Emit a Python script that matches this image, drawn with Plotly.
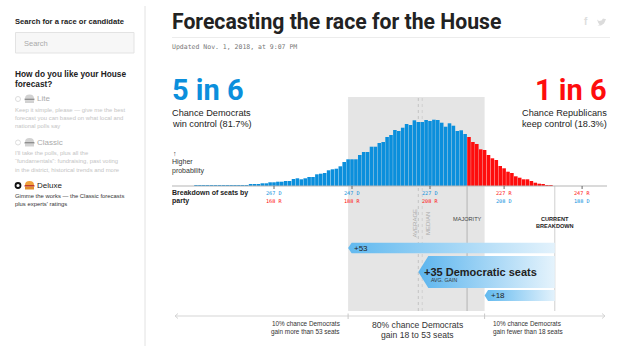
import plotly.graph_objects as go

W, H = 632, 364

# ---------- data ----------
dem_seats = list(range(287, 195, -1))
seat_chance = [
    0.3, 0.3, 0.3, 0.4, 0.4, 0.4, 0.5, 0.5, 0.6, 0.6, 0.7,  # 287-277
    0.8, 0.9, 1.0, 1.2, 1.3, 1.7, 2.7, 2.7, 3.7, 3.7,       # 276-267
    4.3, 4.3, 5.0, 5.0, 7.0, 7.7, 6.7, 7.7, 9.0, 9.0,       # 266-257
    11.7, 12.3, 13.0, 15.7, 16.7, 17.3, 19.7, 24.0, 26.7, 26.7,  # 256-247
    26.7, 31.0, 34.0, 34.0, 39.3, 39.3, 43.0, 44.0, 49.0, 51.0,  # 246-237
    56.0, 55.0, 58.3, 62.0, 61.0, 65.7, 64.0, 64.0, 66.0, 65.0,  # 236-227
    66.3, 66.0, 63.3, 59.3, 62.7, 60.3, 55.0, 55.7, 52.0,       # 226-218
    49.0, 44.0, 42.0, 36.7, 36.0, 31.0, 27.7, 26.0, 20.0, 17.7,  # 217-208
    14.3, 13.0, 9.7, 8.3, 6.7, 6.7, 5.0, 3.3, 2.3, 1.3,          # 207-198
    0.8, 0.6,                                                    # 197-196
]
MAJORITY = 218
CURRENT = 195
tick_seats = [267, 247, 227, 208, 188]
tick_top = ["267 D", "247 D", "227 D", "227 R", "247 R"]
tick_bot = ["168 R", "188 R", "208 R", "208 D", "188 D"]
tick_party = ["D", "D", "D", "R", "R"]
gain_high, gain_avg, gain_low = 53, 35, 18
gain_median = 34

BLUE = "#0b8fdc"
RED = "#fe0d0d"
HEAD = "Roboto"

# ---------- scales ----------
PX_PER_SEAT = 3.9
x_left = 227 + 430 / PX_PER_SEAT
x_right = 227 - (W - 430) / PX_PER_SEAT
BASE_Y = 186


def sy(py):
    return BASE_Y - py


def fx(px):
    return px / W


def fy(py):
    return 1 - py / H


bar_colors = [BLUE if s >= MAJORITY else RED for s in dem_seats]

fig = go.Figure()
fig.add_bar(x=dem_seats, y=seat_chance, marker=dict(color=bar_colors, line_width=0),
            width=0.92, hoverinfo="skip")

shapes = []
ann = []


def text(px, py, s, size=8, color="#222", anchor="left", font="Liberation Sans", bold=False, angle=0):
    ann.append(dict(xref="paper", yref="paper", x=fx(px), y=fy(py), text=f"<b>{s}</b>" if bold else s,
                    showarrow=False, xanchor=anchor, yanchor="middle", textangle=angle,
                    font=dict(size=size, color=color, family=font), borderpad=0, borderwidth=0))


def pline(x0, y0, x1, y1, color="#ccc", width=1, dash="solid"):
    shapes.append(dict(type="line", xref="paper", yref="paper", x0=fx(x0), x1=fx(x1), y0=fy(y0), y1=fy(y1),
                       line=dict(color=color, width=width, dash=dash), layer="above"))


def vline(s, y0, y1, color, dash="solid"):
    shapes.append(dict(type="line", xref="x", yref="y", x0=s, x1=s, y0=sy(y1), y1=sy(y0),
                       line=dict(color=color, width=1, dash=dash), layer="below"))


def seat_px(s):
    return 430 + (227 - s) * PX_PER_SEAT


# shaded 80% band
shapes.append(dict(type="rect", xref="x", yref="y", x0=CURRENT + gain_high, x1=CURRENT + gain_low,
                   y0=sy(311), y1=sy(97), fillcolor="#e5e5e5", line_width=0, layer="below"))

# sidebar
pline(145, 6, 145, 346, "#e2e2e2", 1)
text(15, 21, "Search for a race or candidate", 7.6, "#222", bold=True)
shapes.append(dict(type="rect", xref="paper", yref="paper", x0=fx(15.5), x1=fx(134), y0=fy(32.5), y1=fy(53),
                   fillcolor="#f7f7f7", line=dict(color="#e3e3e3", width=1)))
text(24, 43, "Search", 7.5, "#aaa")
text(15, 74, "How do you like your House", 8.3, "#222", bold=True)
text(15, 84, "forecast?", 8.3, "#222", bold=True)

GREY_T = "#c4c4c4"
options = [
    ("Lite", 99, GREY_T, ["Keep it simple, please — give me the best",
                          "forecast you can based on what local and",
                          "national polls say"], 109.5),
    ("Classic", 142.5, GREY_T, ["I'll take the polls, plus all the",
                                "“fundamentals”: fundraising, past voting",
                                "in the district, historical trends and more"], 153),
    ("Deluxe", 185.5, "#222", ["Gimme the works — the Classic forecasts",
                               "plus experts' ratings"], 196),
]
for name, y, col, lines, y0 in options:
    on = name == "Deluxe"
    shapes.append(dict(type="circle", xref="paper", yref="paper", x0=fx(15.5), x1=fx(20.5), y0=fy(y - 2.5), y1=fy(y + 2.5),
                       fillcolor="white", line=dict(color="#111" if on else "#ddd", width=1.8 if on else 1)))
    top = "#f0a23c" if on else "#d2d2d2"
    mid = "#c0392b" if on else "#8f8f8f"
    bot = "#e08e2e" if on else "#d2d2d2"
    shapes.append(dict(type="path", xref="paper", yref="paper",
                       path=f"M {fx(25)} {fy(y - 0.5)} Q {fx(25)} {fy(y - 4.5)} {fx(29.5)} {fy(y - 4.5)} "
                            f"Q {fx(34)} {fy(y - 4.5)} {fx(34)} {fy(y - 0.5)} Z",
                       fillcolor=top, line_width=0))
    shapes.append(dict(type="rect", xref="paper", yref="paper", x0=fx(24.6), x1=fx(34.4), y0=fy(y - 0.5), y1=fy(y + 1.2),
                       fillcolor=mid, line_width=0))
    shapes.append(dict(type="rect", xref="paper", yref="paper", x0=fx(25), x1=fx(34), y0=fy(y + 1.2), y1=fy(y + 4),
                       fillcolor=bot, line_width=0))
    text(37, y, name, 8, "#aaa" if not on else "#222")
    for i, l in enumerate(lines):
        text(15, y0 + i * 8.4, l, 5.9, col if not on else "#333")

# header
text(172, 21.5, "Forecasting the race for the House", 21.2, "#222", bold=True, font=HEAD)
pline(172, 37.5, 610, 37.5, "#ececec", 1)
text(172, 47, "Updated Nov. 1, 2018, at 9:07 PM", 6.5, "#777", font="DejaVu Sans Mono")
text(586, 21.5, "f", 10, "#ddd", anchor="center", bold=True)
t = [(597, 19.5), (599, 21), (601.5, 20.5), (603, 18.5), (605, 19), (606, 19), (605.2, 21), (604, 23.5), (601, 25.5),
     (597.5, 25.5), (599.5, 24.5), (598, 22.5), (597.8, 21.5)]
shapes.append(dict(type="path", xref="paper", yref="paper", line_width=0, fillcolor="#dcdcdc",
                   path="M " + " L ".join(f"{fx(a)} {fy(b)}" for a, b in t) + " Z"))

# headline probabilities
text(172, 90, "5 in 6", 29, BLUE, bold=True, font=HEAD)
text(172, 113, "Chance Democrats", 9.2, "#222")
text(172, 124, "win control (81.7%)", 9.2, "#222")
text(607, 90, "1 in 6", 29, RED, anchor="right", bold=True, font=HEAD)
text(607, 113, "Chance Republicans", 9.2, "#222", anchor="right")
text(607, 124, "keep control (18.3%)", 9.2, "#222", anchor="right")
text(173, 153, "↑", 7, "#333")
text(172, 162, "Higher", 7, "#333")
text(172, 171, "probability", 7, "#333")

# baseline and ticks
pline(172, 186, 607, 186, "#b5b5b5", 1.2)
for s, a, b, p in zip(tick_seats, tick_top, tick_bot, tick_party):
    c1, c2 = (BLUE, RED) if p == "D" else (RED, BLUE)
    px = seat_px(s)
    pline(px, 186, px, 189, "#666", 1)
    text(px, 193, a, 5.2, c1, anchor="center", font="DejaVu Sans Mono")
    text(px, 200.5, b, 5.2, c2, anchor="center", font="DejaVu Sans Mono")
text(172, 193, "Breakdown of seats by", 7, "#222", bold=True)
text(172, 201, "party", 7, "#222", bold=True)

# reference lines
vline(CURRENT + gain_avg, 97, 311, "#c4c4c4", "dot")
vline(CURRENT + gain_median, 97, 311, "#d0d0d0", "dot")
vline(MAJORITY - 0.5, 186, 311, "#b3b3b3")
vline(CURRENT, 186, 311, "#cfcfcf")
text(414, 223.5, "AVERAGE", 6, "#aaa", anchor="center", angle=-90)
text(427.5, 223.5, "MEDIAN", 6, "#aaa", anchor="center", angle=-90)
text(468, 219, "MAJORITY", 5.6, "#444", anchor="center")
text(555, 219, "CURRENT", 5.6, "#222", anchor="center", bold=True)
text(555, 225.5, "BREAKDOWN", 5.6, "#222", anchor="center", bold=True)


# gain arrows
def arrow(gain, y0, y1, shoulder, c0, c1):
    tip = CURRENT + gain
    sh = tip - shoulder / PX_PER_SEAT
    mid = (y0 + y1) / 2
    xs = [tip, sh, CURRENT, CURRENT, sh, tip]
    ys = [sy(mid), sy(y0), sy(y0), sy(y1), sy(y1), sy(mid)]
    fig.add_scatter(x=xs, y=ys, mode="lines", fill="toself", line=dict(width=0),
                    fillgradient=dict(type="horizontal", colorscale=[[0, c0], [1, c1]]), hoverinfo="skip")


arrow(gain_high, 242.7, 253.3, 3.5, "#61b9ef", "#e3f2fc")
arrow(gain_avg, 256, 288, 10, "#5cb5ee", "#e5f3fc")
arrow(gain_low, 290, 301, 3.5, "#61b9ef", "#e3f2fc")
text(354, 248, "+%d" % gain_high, 8, "#222")
text(424, 272, "+%d Democratic seats" % gain_avg, 11, "#222", bold=True)
text(431, 280, "AVG. GAIN", 5.2, "#333")
text(491, 295.5, "+%d" % gain_low, 8, "#222")

# bottom range axis
pline(175, 316, 605, 316, "#d5d5d5", 1)
for d in (-1, 1):
    end = 175 if d == -1 else 605
    pline(end, 316, end - d * 3, 313.5, "#d5d5d5", 1)
    pline(end, 316, end - d * 3, 318.5, "#d5d5d5", 1)
for s in (CURRENT + gain_high, CURRENT + gain_low):
    pline(seat_px(s), 313.5, seat_px(s), 319, "#c8c8c8", 1)
text(340, 323.5, "10% chance Democrats", 6.4, "#333", anchor="right")
text(340, 331.5, "gain more than %d seats" % gain_high, 6.4, "#333", anchor="right")
text(417, 325, "80% chance Democrats", 8.6, "#333", anchor="center")
text(417, 335, "gain %d to %d seats" % (gain_low, gain_high), 8.6, "#333", anchor="center")
text(493, 323.5, "10% chance Democrats", 6.4, "#333")
text(493, 331.5, "gain fewer than %d seats" % gain_low, 6.4, "#333")

fig.update_layout(
    width=W, height=H, margin=dict(l=0, r=0, t=0, b=0), showlegend=False,
    paper_bgcolor="white", plot_bgcolor="rgba(0,0,0,0)",
    xaxis=dict(range=[x_left, x_right], visible=False, fixedrange=True),
    yaxis=dict(range=[BASE_Y - H, BASE_Y], visible=False, fixedrange=True),
    barmode="overlay", shapes=shapes, annotations=ann,
)
fig.write_html("out.html", post_script="document.body.style.margin='0';document.body.style.overflow='hidden';",
               config={"displayModeBar": False})
